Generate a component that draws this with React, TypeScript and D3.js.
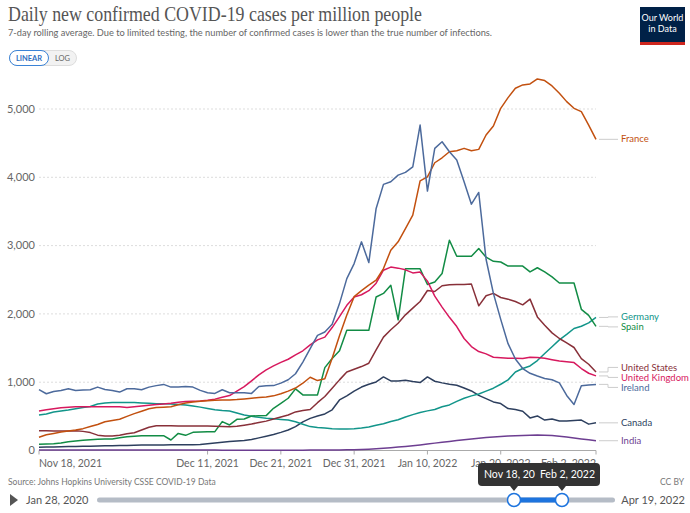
import * as d3 from "d3";

// daily points, Nov 18 2021 .. Feb 2 2022
const dates = d3.utcDay.range(new Date(Date.UTC(2021, 10, 18)), new Date(Date.UTC(2022, 1, 3)));

const france = [
  195, 230, 250, 270, 285, 300, 320, 350, 380, 420,
  440, 457, 500, 540, 575, 610, 628, 635, 642, 670,
  695, 710, 720, 728, 735, 738, 740, 745, 755, 765,
  775, 785, 800, 830, 870, 915, 985, 1073, 1024, 1050,
  1350, 1680, 1983, 2252, 2340, 2420, 2493, 2664, 2933, 3055,
  3250, 3446, 3948, 4007, 4213, 4286, 4374, 4389, 4424, 4389,
  4409, 4619, 4751, 5010, 5167, 5304, 5353, 5367, 5440, 5416,
  5338, 5230, 5108, 5010, 4961, 4765, 4556,
];
const ireland = [
  890, 831, 865, 880, 904, 880, 885, 890, 928, 894,
  880, 855, 904, 904, 890, 928, 950, 968, 928, 930,
  938, 928, 880, 846, 836, 890, 846, 846, 846, 836,
  938, 948, 950, 987, 1036, 1124, 1295, 1491, 1686, 1735,
  1847, 2151, 2517, 2737, 3055, 2752, 3544, 3896, 3934, 4032,
  4072, 4154, 4765, 3798, 4424, 4521, 4374, 4252, 3934, 3607,
  3778, 2800, 2300, 1920, 1564, 1340, 1200, 1130, 1090, 1055,
  1036, 990, 806, 674, 948, 958, 968,
];
const uk = [
  579, 595, 612, 625, 635, 642, 642, 642, 642, 642,
  642, 640, 630, 640, 652, 662, 672, 682, 692, 705,
  716, 722, 726, 735, 752, 780, 804, 870, 936, 1020,
  1107, 1180, 1238, 1290, 1336, 1400, 1460, 1546, 1620, 1660,
  1800, 1960, 2126, 2248, 2280, 2340, 2450, 2640, 2685, 2670,
  2645, 2600, 2612, 2480, 2260, 2100, 1950, 1815, 1640, 1522,
  1449, 1415, 1366, 1358, 1352, 1350, 1346, 1366, 1361, 1350,
  1330, 1312, 1300, 1287, 1200, 1131, 1092,
];
const us = [
  289, 288, 286, 286, 287, 288, 280, 262, 225, 212,
  212, 222, 245, 260, 300, 340, 362, 362, 362, 360,
  358, 357, 357, 357, 356, 352, 348, 355, 370, 387,
  410, 430, 460, 490, 520, 565, 585, 600, 700, 790,
  910, 1034, 1150, 1190, 1229, 1278, 1473, 1660, 1767, 1864,
  1986, 2085, 2182, 2343, 2328, 2412, 2426, 2430, 2432, 2436,
  2118, 2265, 2300, 2240, 2216, 2182, 2133, 2216, 1956, 1835,
  1722, 1640, 1576, 1508, 1346, 1263, 1150,
];
const spain = [
  91, 95, 98, 110, 129, 140, 150, 158, 164, 167,
  169, 185, 200, 210, 215, 217, 217, 217, 154, 250,
  222, 266, 270, 276, 276, 423, 374, 457, 462, 506,
  508, 511, 618, 690, 765, 902, 814, 814, 814, 1213,
  1346, 1460, 1760, 1760, 1760, 1760, 2248, 2300, 2420, 1913,
  2660, 2660, 2660, 2430, 2468, 2592, 3079, 2844, 2844, 2844,
  2957, 2830, 2770, 2760, 2700, 2700, 2700, 2615, 2676, 2615,
  2541, 2453, 2453, 2453, 2067, 1979, 1818,
];
const germany = [
  520, 535, 565, 580, 593, 610, 628, 645, 680, 695,
  702, 702, 702, 702, 695, 690, 686, 684, 682, 675,
  667, 652, 635, 615, 595, 585, 579, 550, 520, 500,
  485, 472, 465, 455, 447, 420, 385, 350, 336, 328,
  320, 316, 316, 320, 330, 345, 370, 392, 425, 450,
  490, 525, 555, 580, 600, 640, 667, 720, 765, 800,
  828, 870, 912, 970, 1034, 1150, 1200, 1238, 1317, 1420,
  1520, 1620, 1700, 1786, 1820, 1869, 1948,
];
const canada = [
  49, 50, 52, 55, 57, 59, 61, 63, 66, 68,
  70, 72, 75, 77, 79, 80, 81, 82, 83, 84,
  85, 86, 88, 100, 110, 120, 130, 140, 147, 160,
  185, 210, 235, 265, 300, 350, 420, 470, 505, 535,
  596, 740, 800, 869, 929, 970, 1004, 1077, 1019, 1019,
  1029, 1010, 995, 1077, 1014, 990, 970, 955, 916, 872,
  808, 760, 711, 687, 614, 599, 575, 477, 506, 445,
  460, 431, 433, 441, 445, 386, 405,
];
const india = [
  8, 8, 8, 7, 7, 7, 7, 7, 7, 7,
  7, 7, 7, 6, 6, 6, 6, 6, 6, 6,
  6, 6, 6, 6, 6, 5, 5, 5, 5, 5,
  5, 5, 5, 5, 5, 5, 5, 6, 6, 7,
  8, 9, 10, 12, 15, 20, 26, 33, 41, 50,
  60, 70, 81, 94, 108, 120, 132, 145, 158, 170,
  180, 190, 198, 205, 211, 216, 221, 225, 227, 224,
  218, 208, 196, 183, 170, 156, 143,
];

const series = [
  { name: "India", color: "#6d3e91", values: india },
  { name: "Canada", color: "#2d3f5e", values: canada },
  { name: "Germany", color: "#12958a", values: germany },
  { name: "Spain", color: "#128c45", values: spain },
  { name: "United States", color: "#883039", values: us },
  { name: "United Kingdom", color: "#d7195e", values: uk },
  { name: "France", color: "#c2500f", values: france },
  { name: "Ireland", color: "#4c6a9c", values: ireland },
];

const xTickDates = [
  Date.UTC(2021, 10, 18), Date.UTC(2021, 11, 11), Date.UTC(2021, 11, 21), Date.UTC(2021, 11, 31),
  Date.UTC(2022, 0, 10), Date.UTC(2022, 0, 20), Date.UTC(2022, 1, 2),
];
const xTickLabels = ["Nov 18, 2021", "Dec 11, 2021", "Dec 21, 2021", "Dec 31, 2021", "Jan 10, 2022", "Jan 20, 2022", "Feb 2, 2022"];
const yTicks = [0, 1000, 2000, 3000, 4000, 5000];

const sans = "Lato, 'Noto Sans', sans-serif";

export default function App() {
  const x = d3.scaleUtc().domain([dates[0], dates[dates.length - 1]]).range([39, 596]);
  const y = d3.scaleLinear().domain([0, 5000]).range([450.5, 109]);
  const line = d3.line<number>().x((_, i) => x(dates[i])).y((v) => y(v));
  const fmt = d3.format(",");

  // end labels, pushed apart so they don't overlap
  const labels = series
    .map((s) => ({ name: s.name, color: s.color, endY: y(s.values[s.values.length - 1]), ly: y(s.values[s.values.length - 1]) }))
    .sort((a, b) => a.endY - b.endY);
  for (let it = 0; it < 50; it++) {
    for (let i = 1; i < labels.length; i++) {
      const gap = labels[i].ly - labels[i - 1].ly;
      if (gap < 10) {
        const d = (10 - gap) / 2;
        labels[i].ly += d;
        labels[i - 1].ly -= d;
      }
    }
  }

  const xEnd = x(dates[dates.length - 1]);
  const slider = d3.scaleLinear().domain([0, 1]).range([97, 615]);
  const h0 = slider(0.805);
  const h1 = slider(0.8976);

  return (
    <svg width={690} height={513} style={{ position: "absolute", left: 0, top: 0 }} fontFamily={sans}>
      <rect width={690} height={513} fill="white" />

      <text x={8} y={21} fontFamily="'Liberation Serif', 'DejaVu Serif', serif" fontSize={21} fill="#555" textLength={414} lengthAdjust="spacingAndGlyphs">
        Daily new confirmed COVID-19 cases per million people
      </text>
      <text x={8} y={36} fontSize={10.2} fill="#666" textLength={484} lengthAdjust="spacingAndGlyphs">
        7-day rolling average. Due to limited testing, the number of confirmed cases is lower than the true number of infections.
      </text>

      {/* linear / log toggle */}
      <rect x={9.5} y={50.5} width={67} height={15} rx={7.5} fill="#f2f2f2" stroke="#ddd" />
      <rect x={9.5} y={50.5} width={39} height={15} rx={7.5} fill="white" stroke="#3b83d6" />
      <text x={29} y={61} fontSize={7.5} fontWeight={700} fill="#2f6fbf" textAnchor="middle">LINEAR</text>
      <text x={62.5} y={61} fontSize={7.5} fill="#666" textAnchor="middle">LOG</text>

      {/* logo */}
      <rect x={640} y={7} width={45} height={38} fill="#002147" />
      <rect x={640} y={42} width={45} height={3} fill="#ce261e" />
      <text x={662.5} y={21} fontSize={9} fill="white" textAnchor="middle">Our World</text>
      <text x={662.5} y={32} fontSize={9} fill="white" textAnchor="middle">in Data</text>

      {/* grid + y axis */}
      {yTicks.map((t) => (
        <g key={t}>
          {t > 0 && <line x1={39} x2={xEnd} y1={y(t)} y2={y(t)} stroke="#ddd" strokeDasharray="2,2" />}
          <text x={35} y={y(t)} dy="0.35em" fontSize={11} fill="#666" textAnchor="end">{fmt(t)}</text>
        </g>
      ))}

      {/* x axis */}
      <line x1={39} x2={xEnd} y1={y(0)} y2={y(0)} stroke="#aaa" />
      {xTickDates.map((t, i) => (
        <g key={t}>
          <line x1={x(new Date(t))} x2={x(new Date(t))} y1={y(0)} y2={y(0) + 4} stroke="#aaa" />
          <text
            x={x(new Date(t))}
            y={467}
            fontSize={10.5}
            fill="#666"
            textAnchor={i === 0 ? "start" : i === xTickDates.length - 1 ? "end" : "middle"}
          >
            {xTickLabels[i]}
          </text>
        </g>
      ))}

      {/* lines */}
      {series.map((s) => (
        <path key={s.name} d={line(s.values) ?? ""} fill="none" stroke={s.color} strokeWidth={1.5} strokeLinejoin="round" />
      ))}

      {/* end labels */}
      {labels.map((l) => (
        <g key={l.name}>
          <path d={`M${xEnd + 3},${l.endY}H608V${l.ly}H618`} fill="none" stroke="#ccc" />
          <text x={621} y={l.ly} dy="0.33em" fontSize={9.5} fill={l.color}>{l.name}</text>
        </g>
      ))}

      {/* footer */}
      <text x={8} y={485} fontSize={8.5} fill="#777">Source: Johns Hopkins University CSSE COVID-19 Data</text>
      <text x={684} y={485} fontSize={8.5} fill="#777" textAnchor="end">CC BY</text>

      {/* timeline */}
      <path d="M10,494 L18,500 L10,506 Z" fill="#555" />
      <text x={26} y={504} fontSize={11} fill="#555">Jan 28, 2020</text>
      <text x={685} y={504} fontSize={11} fill="#555" textAnchor="end">Apr 19, 2022</text>
      <rect x={slider(0)} y={497.5} width={slider(1) - slider(0)} height={5} rx={2.5} fill="#b5bcc6" />
      <rect x={h0} y={497.5} width={h1 - h0} height={5} fill="#1d74de" />
      <circle cx={h0} cy={500} r={6.5} fill="white" stroke="#1d74de" strokeWidth={1.5} />
      <circle cx={h1} cy={500} r={6.5} fill="white" stroke="#1d74de" strokeWidth={1.5} />

      <rect x={478} y={463} width={122} height={23} rx={4} fill="#333" />
      <path d={`M${h0 - 4},486 L${h0},491 L${h0 + 4},486 Z`} fill="#333" />
      <path d={`M${h1 - 4},486 L${h1},491 L${h1 + 4},486 Z`} fill="#333" />
      <text x={484} y={478} fontSize={10.5} fill="white">Nov 18, 20</text>
      <text x={595} y={478} fontSize={10.5} fill="white" textAnchor="end">Feb 2, 2022</text>
    </svg>
  );
}
